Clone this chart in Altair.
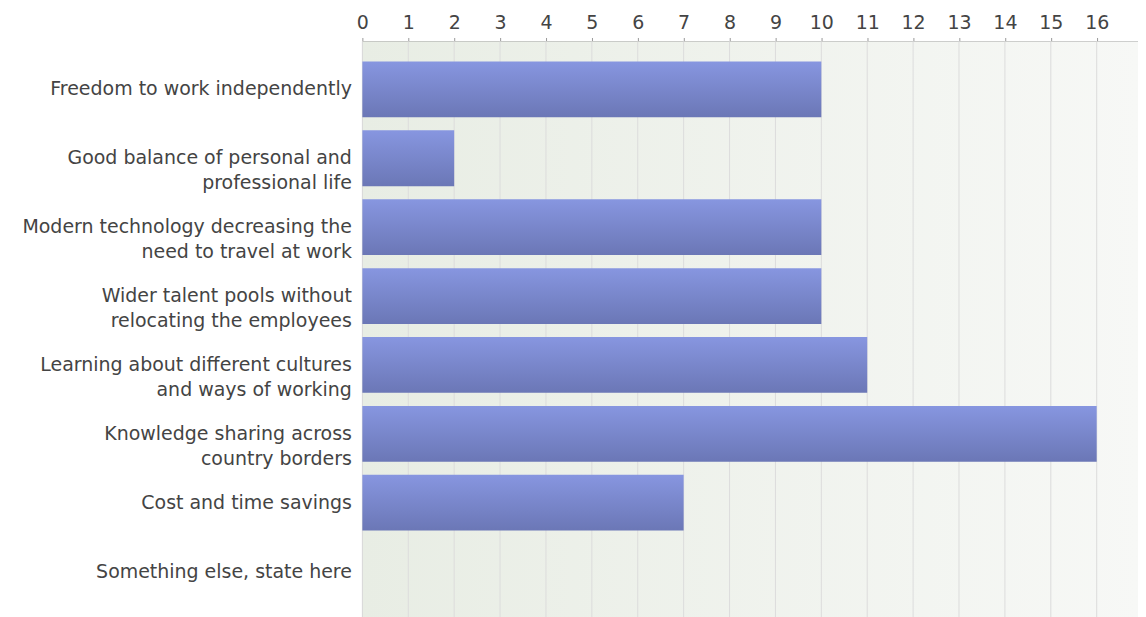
import altair as alt
import pandas as pd

categories = [
    "Freedom to work independently",
    "Good balance of personal and|professional life",
    "Modern technology decreasing the|need to travel at work",
    "Wider talent pools without|relocating the employees",
    "Learning about different cultures|and ways of working",
    "Knowledge sharing across|country borders",
    "Cost and time savings",
    "Something else, state here",
]
values = [10, 2, 10, 10, 11, 16, 7, 0]
tick_values = list(range(0, 17))

W, H = 777, 579
FONT = "DejaVu Sans"

df = pd.DataFrame({"cat": categories, "val": values})
grid_df = pd.DataFrame({"t": tick_values})

xscale = alt.Scale(domain=[0, 16.9], nice=False, zero=True)
yscale = alt.Scale(domain=categories, paddingInner=0.19, paddingOuter=0.29)

xaxis = alt.Axis(
    orient="top",
    values=tick_values,
    title=None,
    grid=False,
    domainColor="#999999",
    domainWidth=1.5,
    tickColor="#999999",
    tickSize=4,
    labelFont=FONT,
    labelFontSize=19,
    labelColor="#444444",
    labelPadding=5,
    labelFlush=False,
)

bg = alt.Chart(pd.DataFrame({"a": [0]})).mark_rect(
    fill=alt.Gradient(
        gradient="linear",
        stops=[
            alt.GradientStop(color="#e8ede4", offset=0),
            alt.GradientStop(color="#f7f8f6", offset=1),
        ],
        x1=0, x2=1, y1=0, y2=0,
    )
).encode(x=alt.value(0), x2=alt.value(W), y=alt.value(0), y2=alt.value(H))

grid = alt.Chart(grid_df).mark_rule(color="#dcdcdc", strokeWidth=1).encode(
    x=alt.X("t:Q", scale=xscale, axis=xaxis)
)

bars = alt.Chart(df).mark_bar(
    fill=alt.Gradient(
        gradient="linear",
        stops=[
            alt.GradientStop(color="#8796e0", offset=0),
            alt.GradientStop(color="#6b77b6", offset=1),
        ],
        x1=0, x2=0, y1=0, y2=1,
    ),
).encode(
    x=alt.X("val:Q", scale=xscale, axis=xaxis),
    y=alt.Y(
        "cat:N",
        scale=yscale,
        sort=None,
        axis=alt.Axis(
            title=None,
            ticks=False,
            grid=False,
            domainColor="#999999",
            domainWidth=1.5,
            labelExpr="split(datum.label, '|')",
            labelFont=FONT,
            labelFontSize=19,
            labelColor="#444444",
            labelPadding=11,
            labelLineHeight=25,
            labelLimit=400,
        ),
    ),
)

chart = (
    alt.layer(bg, grid, bars)
    .properties(width=W, height=H, padding={"left": 13, "top": 5, "right": 0, "bottom": 0})
    .configure_view(stroke="#999999", strokeWidth=1)
)

chart.save("out.html", embed_options={"renderer": "svg", "actions": False})
